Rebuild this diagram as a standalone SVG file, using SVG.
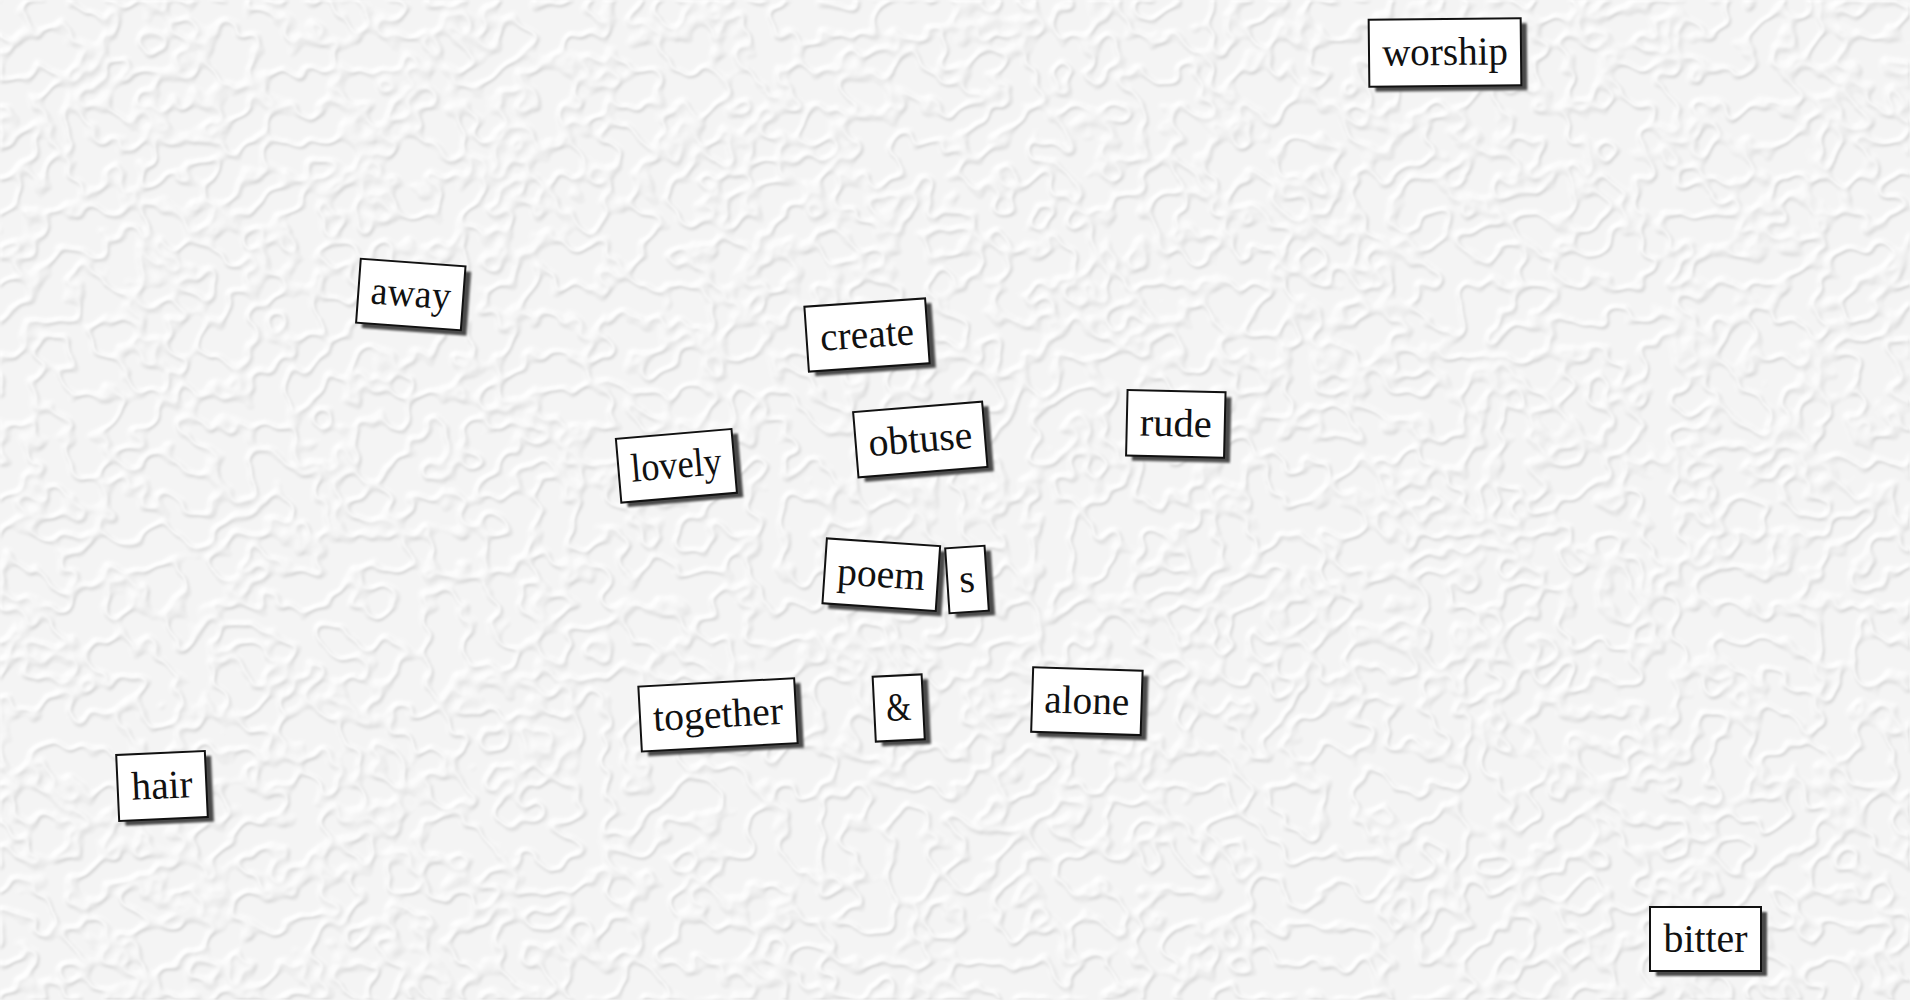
<svg xmlns="http://www.w3.org/2000/svg" width="1910" height="1000" viewBox="0 0 1910 1000">
<defs>
<filter id="tex" filterUnits="userSpaceOnUse" x="0" y="0" width="1910" height="1000">
<feTurbulence type="fractalNoise" baseFrequency="0.028" numOctaves="2" seed="11" result="n"/>
<feColorMatrix in="n" type="matrix" values="0 0 0 0 0  0 0 0 0 0  0 0 0 0 0  1 0 0 0 0" result="a"/>
<feComponentTransfer in="a" result="ridge"><feFuncA type="table" tableValues="0 0 0 0 0 0 1 0 0 0 0 0 0"/></feComponentTransfer>
<feGaussianBlur in="ridge" stdDeviation="1.6" result="b"/>
<feDiffuseLighting in="b" surfaceScale="0.9" diffuseConstant="1" lighting-color="#ffffff" result="lit"><feDistantLight azimuth="235" elevation="65"/></feDiffuseLighting>
</filter>
<filter id="soft" x="-20%" y="-20%" width="140%" height="140%"><feGaussianBlur stdDeviation="1"/></filter>
<style>
.sh{fill:#4a4a4a;filter:url(#soft)}
.tile{fill:#ffffff;stroke:#111111;stroke-width:2}
.w{font-family:"Liberation Serif","Times New Roman",serif;font-size:40px;fill:#111111;text-anchor:middle}
</style>
</defs>
<rect x="0" y="0" width="1910" height="1000" fill="#ebebeb"/>
<rect x="0" y="0" width="1910" height="1000" filter="url(#tex)"/>
<g id="connectors"/>
<g id="worship" transform="translate(1445 52.5) rotate(-0.6)"><rect class="sh" x="-70" y="-28.5" width="152" height="67"/><rect class="tile" x="-76" y="-33.5" width="152" height="67"/><text class="w" x="0" y="12.5" textLength="126" lengthAdjust="spacingAndGlyphs">worship</text></g>
<g id="away" transform="translate(410.8 294.5) rotate(4.2)"><rect class="sh" x="-46.5" y="-27" width="105" height="64"/><rect class="tile" x="-52.5" y="-32" width="105" height="64"/><text class="w" x="0" y="12" textLength="80" lengthAdjust="spacingAndGlyphs">away</text></g>
<g id="create" transform="translate(867 335) rotate(-4)"><rect class="sh" x="-54.5" y="-27.5" width="121" height="65"/><rect class="tile" x="-60.5" y="-32.5" width="121" height="65"/><text class="w" x="0" y="12.5" textLength="94" lengthAdjust="spacingAndGlyphs">create</text></g>
<g id="lovely" transform="translate(676.4 465.8) rotate(-4.9)"><rect class="sh" x="-52" y="-27" width="116" height="64"/><rect class="tile" x="-58" y="-32" width="116" height="64"/><text class="w" x="0" y="12" textLength="91" lengthAdjust="spacingAndGlyphs">lovely</text></g>
<g id="obtuse" transform="translate(920.3 439.5) rotate(-4.7)"><rect class="sh" x="-58.7" y="-27.75" width="129.4" height="65.5"/><rect class="tile" x="-64.7" y="-32.75" width="129.4" height="65.5"/><text class="w" x="0" y="12.5" textLength="104" lengthAdjust="spacingAndGlyphs">obtuse</text></g>
<g id="rude" transform="translate(1175.8 423.8) rotate(1.3)"><rect class="sh" x="-43" y="-27.75" width="98" height="65.5"/><rect class="tile" x="-49" y="-32.75" width="98" height="65.5"/><text class="w" x="0" y="12.5" textLength="72" lengthAdjust="spacingAndGlyphs">rude</text></g>
<g id="poem" transform="translate(881.3 574.7) rotate(3.9)"><rect class="sh" x="-50.75" y="-27.5" width="113.5" height="65"/><rect class="tile" x="-56.75" y="-32.5" width="113.5" height="65"/><text class="w" x="0" y="12.5" textLength="88" lengthAdjust="spacingAndGlyphs">poem</text></g>
<g id="s" transform="translate(967 579.5) rotate(-3.8)"><rect class="sh" x="-13.7" y="-27.5" width="39.4" height="65"/><rect class="tile" x="-19.7" y="-32.5" width="39.4" height="65"/><text class="w" x="0" y="12.5">s</text></g>
<g id="together" transform="translate(718 714.9) rotate(-3.1)"><rect class="sh" x="-72" y="-27.5" width="156" height="65"/><rect class="tile" x="-78" y="-32.5" width="156" height="65"/><text class="w" x="0" y="12.5" textLength="130" lengthAdjust="spacingAndGlyphs">together</text></g>
<g id="amp" transform="translate(898.7 708) rotate(-2.8)"><rect class="sh" x="-18.5" y="-27.5" width="49" height="65"/><rect class="tile" x="-24.5" y="-32.5" width="49" height="65"/><text class="w" x="0" y="12.5" textLength="25" lengthAdjust="spacingAndGlyphs">&amp;</text></g>
<g id="alone" transform="translate(1086.9 701.2) rotate(1.8)"><rect class="sh" x="-48.75" y="-27.25" width="109.5" height="64.5"/><rect class="tile" x="-54.75" y="-32.25" width="109.5" height="64.5"/><text class="w" x="0" y="12.5" textLength="85" lengthAdjust="spacingAndGlyphs">alone</text></g>
<g id="hair" transform="translate(162 786) rotate(-2.6)"><rect class="sh" x="-38.35" y="-28" width="88.7" height="66"/><rect class="tile" x="-44.35" y="-33" width="88.7" height="66"/><text class="w" x="0" y="12.5" textLength="61" lengthAdjust="spacingAndGlyphs">hair</text></g>
<g id="bitter" transform="translate(1705.5 939)"><rect class="sh" x="-49.5" y="-27" width="111" height="64"/><rect class="tile" x="-55.5" y="-32" width="111" height="64"/><text class="w" x="0" y="12.5" textLength="84" lengthAdjust="spacingAndGlyphs">bitter</text></g>
</svg>
